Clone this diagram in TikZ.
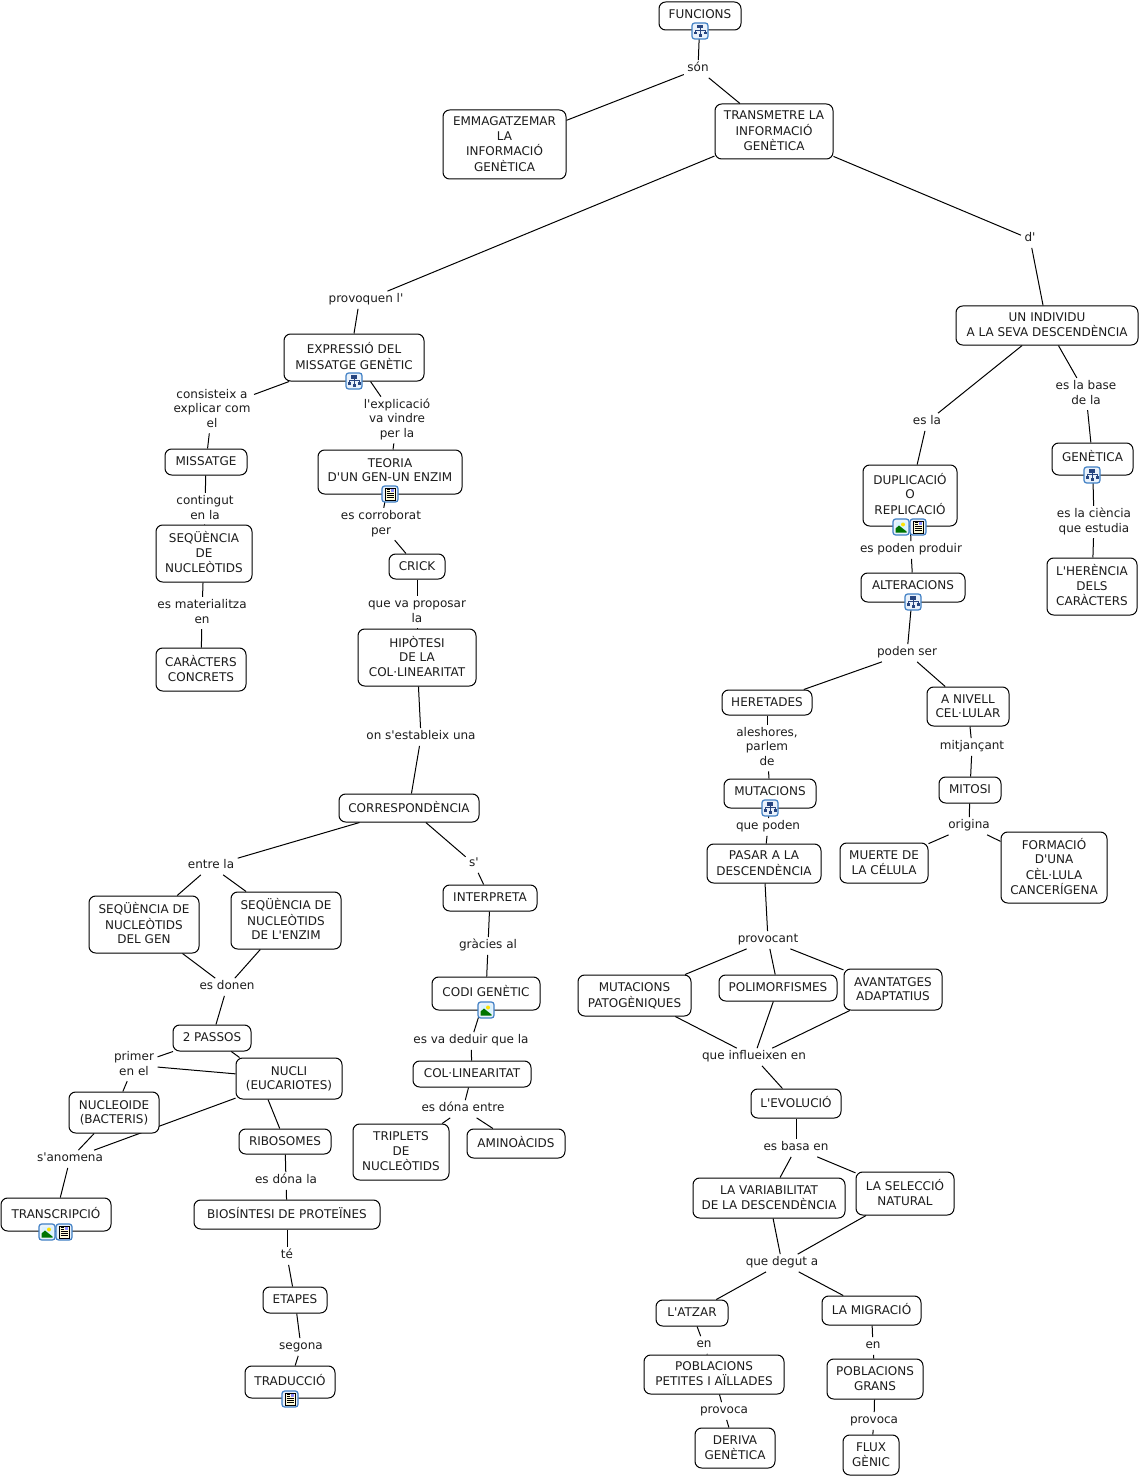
\documentclass[tikz,border=0pt]{standalone}
\usepackage{fontspec}
\newfontfamily\vf{DejaVu Sans}
\usetikzlibrary{backgrounds}
\definecolor{ink}{HTML}{1C1C1C}
\definecolor{iconblue}{HTML}{3F7FC4}
\definecolor{iconfill}{HTML}{EAF2FB}
\definecolor{glyph}{HTML}{27457F}
\tikzset{
  concept/.style={draw=black,line width=.75pt,rounded corners=5pt,fill=white,inner sep=0pt,text=ink,font=\vf\fontsize{9}{10.9}\selectfont},
  lbl/.style={inner xsep=2.5pt,inner ysep=1pt,text=ink,font=\vf\fontsize{9}{10.9}\selectfont},
  conn/.style={draw=black,line width=.75pt},
  iconbox/.style={draw=iconblue,line width=.9pt,rounded corners=2pt,fill=iconfill,minimum size=12pt,inner sep=0pt},
}
% #1 raise of the text in px, #2 name, #3 left, #4 top, #5 right, #6 bottom, #7 text
\newcommand\cn[7][0]{%
  \pgfmathsetmacro\mycx{(#3+#5)/2}%
  \pgfmathsetmacro\mycy{(#4+#6)/2}%
  \pgfmathsetmacro\myw{(#5-#3)*0.75}%
  \pgfmathsetmacro\myh{(#6-#4)*0.75}%
  \pgfmathsetmacro\myr{#1*0.75-5.85}%
  \node[concept,minimum width=\myw pt,minimum height=\myh pt] (#2) at (\mycx,\mycy)
    {\raisebox{\myr pt}{\smash{\begin{tabular}{@{}c@{}}#7\end{tabular}}}};%
}
\newcommand\lb[4]{\node[lbl] (#1) at (#2,#3+2) {\begin{tabular}{@{}c@{}}#4\end{tabular}};}
\newcommand\lk[2]{\draw[conn] (#1) -- (#2);}
\newcommand\hier[3]{%
  \node[iconbox] (#1) at (#2,#3) {};
  \begin{scope}[shift={(#2,#3)}]
    \fill[glyph] (-3,-6) rectangle (3,-2.5);
    \fill[glyph] (-6.5,1) rectangle (-3.5,3.5);
    \fill[glyph] (-1.5,3) rectangle (1.5,6);
    \fill[glyph] (3.5,1) rectangle (6.5,3.5);
    \draw[glyph,line width=.5pt] (0,-2.5) -- (0,3) (-5,1) -- (-5,-.8) -- (5,-.8) -- (5,1);
  \end{scope}}
\newcommand\imag[3]{%
  \node[iconbox] (#1) at (#2,#3) {};
  \begin{scope}[shift={(#2,#3)}]
    \fill[cyan!15] (-5.5,-5.5) rectangle (5.5,5.5);
    \fill[green!45!black] (-5.5,5.5) -- (-5.5,1.5) -- (-2,-1.5) -- (5.5,4.5) -- (5.5,5.5) -- cycle;
    \fill[yellow!85!orange] (2,-2.5) circle (2);
  \end{scope}}
\newcommand\docu[3]{%
  \node[iconbox] (#1) at (#2,#3) {};
  \begin{scope}[shift={(#2,#3)}]
    \filldraw[draw=black,fill=yellow!15,line width=.4pt] (-5,-6) rectangle (5,6);
    \fill[blue!45] (.5,-5) rectangle (4,-2);
    \draw[black,line width=.45pt] (-3.5,-4.5) -- (-.5,-4.5) (-3.5,-2.5) -- (-.5,-2.5) (-3.5,-.5) -- (3.5,-.5) (-3.5,1.5) -- (3.5,1.5) (-3.5,3.5) -- (3.5,3.5);
  \end{scope}}
\begin{document}
\begin{tikzpicture}[x=.75pt,y=-.75pt]
\useasboundingbox (0,0) rectangle (1139,1476);
% concepts
\cn[3.3]{funcions}{659}{2}{741}{30}{FUNCIONS}
\cn{emma}{443}{110}{566}{179}{EMMAGATZEMAR\\LA\\INFORMACIÓ\\GENÈTICA}
\cn{trans}{715}{104}{833}{159}{TRANSMETRE LA\\INFORMACIÓ\\GENÈTICA}
\cn[1]{indiv}{956}{306}{1138}{345}{UN INDIVIDU\\A LA SEVA DESCENDÈNCIA}
\cn[1]{expr}{284}{334}{424}{381}{EXPRESSIÓ DEL\\MISSATGE GENÈTIC}
\cn[3.3]{genet}{1052}{443}{1133}{475}{GENÈTICA}
\cn{miss}{165}{449}{247}{475}{MISSATGE}
\cn[3]{teoria}{318}{450}{462}{494}{TEORIA\\D'UN GEN-UN ENZIM}
\cn[1]{dupl}{863}{465}{957}{526}{DUPLICACIÓ\\O\\REPLICACIÓ}
\cn[3.3]{alter}{861}{573}{965}{602}{ALTERACIONS}
\cn{seqn}{156}{525}{252}{582}{SEQÜÈNCIA\\DE\\NUCLEÒTIDS}
\cn{heren}{1047}{558}{1137}{615}{L'HERÈNCIA\\DELS\\CARÀCTERS}
\cn{crick}{389}{554}{445}{579}{CRICK}
\cn{carac}{156}{648}{246}{691}{CARÀCTERS\\CONCRETS}
\cn{hipo}{358}{629}{476}{686}{HIPÒTESI\\DE LA\\COL·LINEARITAT}
\cn{hered}{722}{690}{812}{715}{HERETADES}
\cn{nivell}{927}{687}{1009}{726}{A NIVELL\\CEL·LULAR}
\cn[3.3]{mutac}{724}{779}{816}{808}{MUTACIONS}
\cn{mitosi}{939}{777}{1001}{803}{MITOSI}
\cn{corresp}{339}{794}{479}{822}{CORRESPONDÈNCIA}
\cn{pasar}{707}{844}{821}{883}{PASAR A LA\\DESCENDÈNCIA}
\cn{muerte}{840}{843}{928}{883}{MUERTE DE\\LA CÉLULA}
\cn{forma}{1001}{832}{1107}{903}{FORMACIÓ\\D'UNA\\CÈL·LULA\\CANCERÍGENA}
\cn{seqgen}{89}{896}{199}{953}{SEQÜÈNCIA DE\\NUCLEÒTIDS\\DEL GEN}
\cn{seqenz}{231}{892}{341}{949}{SEQÜÈNCIA DE\\NUCLEÒTIDS\\DE L'ENZIM}
\cn{interp}{443}{885}{537}{911}{INTERPRETA}
\cn{mutpat}{578}{975}{691}{1016}{MUTACIONS\\PATOGÈNIQUES}
\cn{polim}{719}{975}{837}{1001}{POLIMORFISMES}
\cn{avant}{844}{969}{942}{1010}{AVANTATGES\\ADAPTATIUS}
\cn[2]{codi}{432}{977}{540}{1010}{CODI GENÈTIC}
\cn{passos}{173}{1025}{251}{1051}{2 PASSOS}
\cn{nucli}{236}{1058}{342}{1099}{NUCLI\\(EUCARIOTES)}
\cn{colin}{413}{1061}{531}{1087}{COL·LINEARITAT}
\cn{nucleo}{69}{1092}{159}{1133}{NUCLEOIDE\\(BACTERIS)}
\cn{evol}{751}{1089}{841}{1118}{L'EVOLUCIÓ}
\cn{ribo}{239}{1129}{331}{1154}{RIBOSOMES}
\cn{tripl}{353}{1124}{449}{1180}{TRIPLETS\\DE\\NUCLEÒTIDS}
\cn{amino}{467}{1129}{565}{1158}{AMINOÀCIDS}
\cn{varia}{693}{1178}{845}{1218}{LA VARIABILITAT\\DE LA DESCENDÈNCIA}
\cn{selec}{856}{1172}{954}{1215}{LA SELECCIÓ\\NATURAL}
\cn[1]{transc}{1}{1198}{111}{1231}{TRANSCRIPCIÓ}
\cn{biosi}{194}{1200}{380}{1229}{BIOSÍNTESI DE PROTEÏNES}
\cn{etapes}{263}{1287}{327}{1313}{ETAPES}
\cn{atzar}{656}{1300}{728}{1326}{L'ATZAR}
\cn{migra}{822}{1296}{921}{1325}{LA MIGRACIÓ}
\cn{pobpet}{644}{1355}{784}{1394}{POBLACIONS\\PETITES I AÏLLADES}
\cn{pobgr}{827}{1359}{923}{1399}{POBLACIONS\\GRANS}
\cn[1]{tradu}{245}{1366}{335}{1398}{TRADUCCIÓ}
\cn{deriva}{695}{1428}{775}{1468}{DERIVA\\GENÈTICA}
\cn{flux}{843}{1435}{899}{1475}{FLUX\\GÈNIC}
% linking phrases
\lb{son}{698}{67}{són}
\lb{da}{1030}{237}{d'}
\lb{provoq}{366}{298}{provoquen l'}
\lb{consist}{212}{408}{consisteix a\\explicar com\\el}
\lb{explic}{397}{418}{l'explicació\\va vindre\\per la}
\lb{esla}{927}{420}{es la}
\lb{base}{1086}{392}{es la base\\de la}
\lb{conting}{205}{507}{contingut\\en la}
\lb{corrob}{381}{522}{es corroborat\\per}
\lb{ciencia}{1094}{520}{es la ciència\\que estudia}
\lb{produir}{911}{548}{es poden produir}
\lb{mater}{202}{611}{es materialitza\\en}
\lb{propos}{417}{610}{que va proposar\\la}
\lb{podens}{907}{651}{poden ser}
\lb{establ}{421}{735}{on s'estableix una}
\lb{alesh}{767}{746}{aleshores,\\parlem\\de}
\lb{mitj}{972}{745}{mitjançant}
\lb{quepod}{768}{825}{que poden}
\lb{orig}{969}{824}{origina}
\lb{entre}{211}{864}{entre la}
\lb{sa}{474}{862}{s'}
\lb{provoc}{768}{938}{provocant}
\lb{gracies}{488}{944}{gràcies al}
\lb{donen}{227}{985}{es donen}
\lb{deduir}{471}{1039}{es va deduir que la}
\lb{primer}{134}{1063}{primer\\en el}
\lb{influ}{754}{1055}{que influeixen en}
\lb{dona}{463}{1107}{es dóna entre}
\lb{basa}{796}{1146}{es basa en}
\lb{anomena}{70}{1157}{s'anomena}
\lb{donala}{286}{1179}{es dóna la}
\lb{degut}{782}{1261}{que degut a}
\lb{te}{287}{1254}{té}
\lb{segona}{301}{1345}{segona}
\lb{ena}{704}{1343}{en}
\lb{enb}{873}{1344}{en}
\lb{provca}{724}{1409}{provoca}
\lb{provcb}{874}{1419}{provoca}
% connectors behind the boxes
\begin{pgfonlayer}{background}
\lk{funcions}{son}\lk{son}{emma}\lk{son}{trans}\lk{trans}{provoq}\lk{trans}{da}\lk{da}{indiv}
\lk{provoq.-132}{expr.90}\lk{expr}{consist}\lk{consist}{miss}\lk{expr}{explic}\lk{explic}{teoria}
\lk{miss}{conting}\lk{conting}{seqn}\lk{seqn}{mater}\lk{mater}{carac}
\lk{teoria}{corrob}\lk{corrob}{crick}\lk{crick}{propos}\lk{propos}{hipo}\lk{hipo}{establ}\lk{establ}{corresp}
\lk{corresp}{entre}\lk{entre}{seqgen}\lk{entre}{seqenz}\lk{corresp}{sa}\lk{sa}{interp}
\lk{interp}{gracies}\lk{gracies}{codi}\lk{codi}{deduir}\lk{deduir}{colin}\lk{colin}{dona}\lk{dona}{tripl}\lk{dona}{amino}
\lk{seqgen}{donen}\lk{seqenz}{donen}\lk{donen}{passos}\lk{passos}{primer}\lk{primer}{nucli}\lk{primer}{nucleo}
\lk{passos.-35}{nucli.157}\lk{nucleo}{anomena}\lk{nucli}{anomena}\lk{anomena}{transc}\lk{nucli.-135}{ribo.112}\lk{ribo}{donala}\lk{donala}{biosi}
\lk{biosi}{te}\lk{te}{etapes}\lk{etapes}{segona}\lk{segona}{tradu}
\lk{indiv}{esla}\lk{esla}{dupl}\lk{indiv}{base}\lk{base}{genet}\lk{genet}{ciencia}\lk{ciencia}{heren}
\lk{dupl}{produir}\lk{produir}{alter}\lk{alter}{podens}\lk{podens}{hered}\lk{podens}{nivell}
\lk{hered}{alesh}\lk{alesh}{mutac}\lk{nivell}{mitj}\lk{mitj}{mitosi}\lk{mitosi}{orig}\lk{orig}{muerte}\lk{orig}{forma}
\lk{mutac}{quepod}\lk{quepod}{pasar}\lk{pasar}{provoc}\lk{provoc}{mutpat}\lk{provoc}{polim}\lk{provoc}{avant}
\lk{mutpat}{influ}\lk{polim}{influ}\lk{avant}{influ}\lk{influ}{evol}\lk{evol}{basa}\lk{basa}{varia}\lk{basa}{selec}
\lk{varia}{degut}\lk{selec}{degut}\lk{degut}{atzar}\lk{degut}{migra}\lk{atzar}{ena}\lk{ena}{pobpet}\lk{pobpet}{provca}\lk{provca}{deriva}
\lk{migra}{enb}\lk{enb}{pobgr}\lk{pobgr}{provcb}\lk{provcb}{flux}
\end{pgfonlayer}
% icons
\hier{ia}{700}{31}
\hier{ib}{354}{381}
\hier{ic}{1092}{475}
\hier{id}{913}{602}
\hier{ie}{770}{808}
\docu{if}{390}{494}
\imag{ig}{901}{527}
\docu{ih}{918}{527}
\imag{ii}{486}{1010}
\imag{ij}{47}{1232}
\docu{ik}{64}{1232}
\docu{il}{290}{1399}
\end{tikzpicture}
\end{document}
